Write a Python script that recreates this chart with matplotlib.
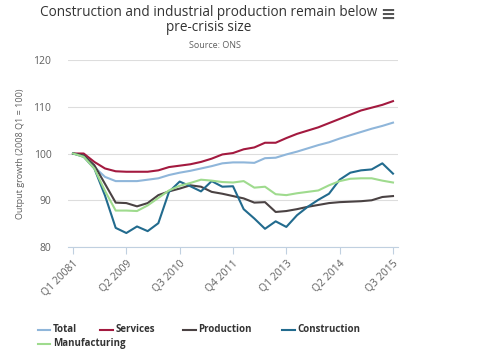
import matplotlib
matplotlib.use("Agg")
import matplotlib.pyplot as plt
from matplotlib.lines import Line2D

plt.rcParams['font.family'] = ['Open Sans', 'DejaVu Sans']

# quarterly index, 2008 Q1 = 100 (Q1 2008 .. Q3 2015)
total = [100, 99.6, 97.1, 95.0, 94.1, 94.1, 94.1, 94.4, 94.7, 95.4,
         95.9, 96.3, 96.8, 97.3, 97.9, 98.1, 98.1, 98.0, 99.0, 99.1,
         99.8, 100.4, 101.1, 101.8, 102.4, 103.2, 103.9, 104.6, 105.3, 105.9,
         106.6]
services = [100, 100, 98.2, 96.8, 96.2, 96.1, 96.1, 96.1, 96.4, 97.1,
            97.4, 97.7, 98.2, 98.9, 99.8, 100.1, 100.9, 101.3, 102.3, 102.3,
            103.3, 104.2, 104.9, 105.6, 106.5, 107.4, 108.3, 109.2, 109.8, 110.4,
            111.2]
production = [100, 99.6, 97.5, 93.5, 89.5, 89.4, 88.7, 89.4, 91.1, 91.9,
              92.5, 93.2, 92.9, 91.8, 91.4, 90.9, 90.4, 89.5, 89.6, 87.5,
              87.7, 88.1, 88.6, 89.0, 89.4, 89.6, 89.7, 89.8, 90.0, 90.7,
              90.9]
construction = [100, 99.3, 96.8, 91.0, 84.1, 83.0, 84.4, 83.4, 85.1, 91.8,
                94.0, 93.0, 91.9, 94.1, 92.9, 93.0, 88.1, 86.1, 83.9, 85.5,
                84.3, 86.8, 88.6, 90.1, 91.4, 94.4, 95.9, 96.4, 96.6, 97.9,
                95.7]
manufacturing = [100, 99.3, 96.8, 92.0, 87.8, 87.8, 87.7, 88.9, 90.5, 92.1,
                 93.1, 93.7, 94.4, 94.2, 93.9, 93.8, 94.1, 92.7, 92.9, 91.3,
                 91.1, 91.5, 91.8, 92.1, 93.2, 94.1, 94.6, 94.7, 94.7, 94.2,
                 93.8]

tick_pos = [0, 5, 10, 15, 20, 25, 30]
tick_labels = ['Q1 20081', 'Q2 2009', 'Q3 2010', 'Q4 2011',
               'Q1 2013', 'Q2 2014', 'Q3 2015']

series = [
    ('Total', total, '#8fb6da'),
    ('Services', services, '#a3193f'),
    ('Production', production, '#4a4243'),
    ('Construction', construction, '#226b8e'),
    ('Manufacturing', manufacturing, '#9fdb8e'),
]

fig = plt.figure(figsize=(5, 3.57), dpi=100)
ax = fig.add_axes([0.136, 0.308, 0.66, 0.524])

x = list(range(len(total)))
for name, vals, col in series:
    ax.plot(x, vals, color=col, lw=1.5, label=name)

ax.set_xlim(-0.47, 30.47)
ax.set_ylim(80, 120)
ax.set_yticks([80, 90, 100, 110, 120])
ax.set_xticks(tick_pos)
ax.set_xticklabels(tick_labels, rotation=45, ha='right', rotation_mode='anchor')
ax.grid(axis='y', color='#dddddd', lw=0.8)
ax.set_axisbelow(True)
for s in ['top', 'right', 'left']:
    ax.spines[s].set_visible(False)
ax.spines['bottom'].set_color('#c0d0e0')
ax.tick_params(axis='y', length=0, labelsize=7.5, labelcolor='#606060', pad=12)
ax.tick_params(axis='x', length=5, color='#c0d0e0', labelsize=7.5,
               labelcolor='#606060', pad=3)
ax.set_ylabel('Output growth (2008 Q1 = 100)', fontsize=6.5, color='#606060',
              labelpad=6)

fig.text(0.418, 0.965, 'Construction and industrial production remain below',
         ha='center', va='center', fontsize=9.8, color='#333333')
fig.text(0.418, 0.922, 'pre-crisis size', ha='center', va='center',
         fontsize=9.8, color='#333333')
fig.text(0.43, 0.873, 'Source: ONS', ha='center', va='center',
         fontsize=6.5, color='#606060')
fig.text(0.775, 0.958, '\u2261', ha='center', va='center', fontsize=13,
         color='#555555', fontweight='bold')

handles = [Line2D([], [], color=c, lw=1.5) for _, _, c in series]
names = [n for n, _, _ in series]
leg_x = [0.075, 0.2, 0.365, 0.563, 0.075]
leg_y = [0.077, 0.077, 0.077, 0.077, 0.037]
for h, n, lx, ly in zip(handles, names, leg_x, leg_y):
    fig.add_artist(Line2D([lx, lx + 0.026], [ly, ly], color=h.get_color(),
                          lw=1.5, transform=fig.transFigure))
    fig.text(lx + 0.031, ly, n, ha='left', va='center', fontsize=7,
             fontweight='bold', color='#333333')

fig.savefig('out.png', dpi=100)
